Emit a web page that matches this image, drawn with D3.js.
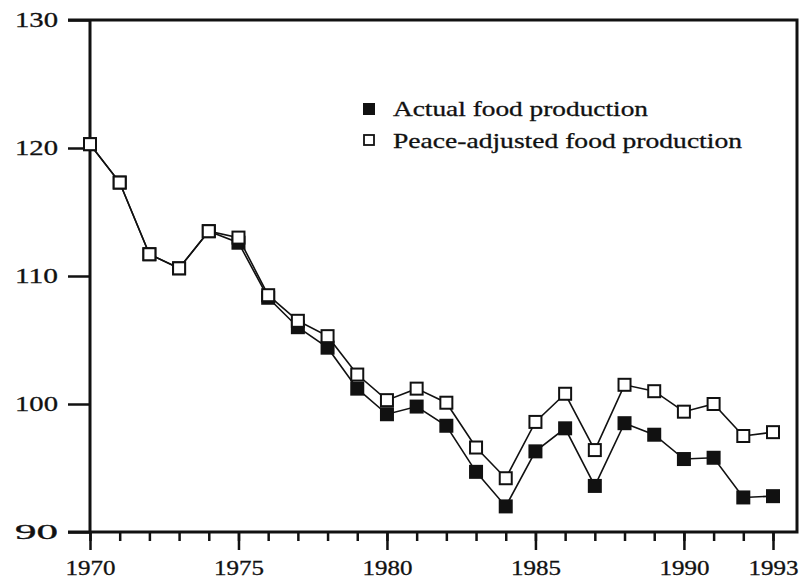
<!DOCTYPE html>
<html>
<head>
<meta charset="utf-8">
<script src="https://cdn.jsdelivr.net/npm/d3@7"></script>
<style>
  body { margin: 0; background: #fff; }
  svg { display: block; }
  text { font-family: "Liberation Serif", "DejaVu Serif", serif; fill: #111; }
</style>
</head>
<body>
<svg width="800" height="582"></svg>
<script>
// years on the x axis
const years = d3.range(1970, 1994)
// index values
const actual = [120.3, 117.3, 111.7, 110.6, 113.5, 112.6, 108.3, 106.0, 104.4, 101.2,
  99.2, 99.8, 98.3, 94.7, 92.0, 96.3, 98.1, 93.6, 98.5, 97.6, 95.7, 95.8, 92.7, 92.8]
const peace = [120.3, 117.3, 111.7, 110.6, 113.5, 113.0, 108.5, 106.5, 105.3, 102.3,
  100.3, 101.2, 100.1, 96.6, 94.2, 98.6, 100.8, 96.4, 101.5, 101.0, 99.4, 100.0, 97.5, 97.8]
const yTicks = [90, 100, 110, 120, 130]
const xLabels = [1970, 1975, 1980, 1985, 1990, 1993]
const legendNames = ['Actual food production', 'Peace-adjusted food production']

const svg = d3.select('svg')

const x = d3.scaleLinear().domain([1970, 1993]).range([90, 773])
const y = d3.scaleLinear().domain([90, 130]).range([532, 20])

//y axis ticks and labels
const yAxis = svg.append('g')
  .attr('transform', 'translate(90,0)')
  .call(d3.axisLeft(y).tickValues(yTicks).tickSize(22).tickPadding(10).tickFormat(d3.format('d')))
yAxis.select('.domain').remove()
yAxis.selectAll('line').attr('stroke', '#111').attr('stroke-width', 2.5)
yAxis.selectAll('text')
  .attr('font-size', 21)
  .attr('fill', '#111')
  .attr('textLength', 43)
  .attr('lengthAdjust', 'spacingAndGlyphs')
  .attr('stroke', '#111').attr('stroke-width', 0.3)

//minor x ticks, every year
const xMinor = svg.append('g')
  .attr('transform', 'translate(0,532)')
  .call(d3.axisBottom(x).tickValues(years).tickSize(9).tickFormat(''))
xMinor.select('.domain').remove()
xMinor.selectAll('line').attr('stroke', '#111').attr('stroke-width', 2.5)

//major x ticks with labels
const xMajor = svg.append('g')
  .attr('transform', 'translate(0,532)')
  .call(d3.axisBottom(x).tickValues(xLabels).tickSize(18).tickPadding(10).tickFormat(d3.format('d')))
xMajor.select('.domain').remove()
xMajor.selectAll('line').attr('stroke', '#111').attr('stroke-width', 2.5)
xMajor.selectAll('text')
  .attr('font-size', 21)
  .attr('fill', '#111')
  .attr('textLength', 50)
  .attr('lengthAdjust', 'spacingAndGlyphs')
  .attr('stroke', '#111').attr('stroke-width', 0.3)

//frame
svg.append('path')
  .attr('d', 'M68,20 H797 V532 H68 M90,20 V532')
  .attr('fill', 'none')
  .attr('stroke', '#111')
  .attr('stroke-width', 3)

const line = d3.line().x((d, i) => x(years[i])).y(d => y(d))
const size = 14

//actual series: filled squares
svg.append('path').datum(actual)
  .attr('d', line)
  .attr('fill', 'none')
  .attr('stroke', '#111')
  .attr('stroke-width', 1.6)
svg.selectAll('rect.actual').data(actual).enter().append('rect')
  .attr('class', 'actual')
  .attr('x', (d, i) => x(years[i]) - size / 2)
  .attr('y', d => y(d) - size / 2)
  .attr('width', size)
  .attr('height', size)
  .attr('fill', '#111')

//peace-adjusted series: open squares
svg.append('path').datum(peace)
  .attr('d', line)
  .attr('fill', 'none')
  .attr('stroke', '#111')
  .attr('stroke-width', 1.6)
svg.selectAll('rect.peace').data(peace).enter().append('rect')
  .attr('class', 'peace')
  .attr('x', (d, i) => x(years[i]) - size / 2 + 1)
  .attr('y', d => y(d) - size / 2 + 1)
  .attr('width', size - 2)
  .attr('height', size - 2)
  .attr('fill', '#fff')
  .attr('stroke', '#111')
  .attr('stroke-width', 2)

//legend
const legend = svg.append('g')
legendNames.forEach((name, i) => {
  const ly = 109 + i * 32
  legend.append('rect')
    .attr('x', i ? 364 : 363)
    .attr('y', ly - 6)
    .attr('width', i ? 10 : 12)
    .attr('height', i ? 10 : 12)
    .attr('fill', i ? '#fff' : '#111')
    .attr('stroke', '#111')
    .attr('stroke-width', i ? 1.8 : 0)
  legend.append('text')
    .attr('x', 393)
    .attr('y', ly + 7)
    .attr('font-size', 21)
    .attr('textLength', i ? 349 : 255)
    .attr('lengthAdjust', 'spacingAndGlyphs')
    .attr('stroke', '#111').attr('stroke-width', 0.3)
    .text(name)
})
</script>
</body>
</html>
